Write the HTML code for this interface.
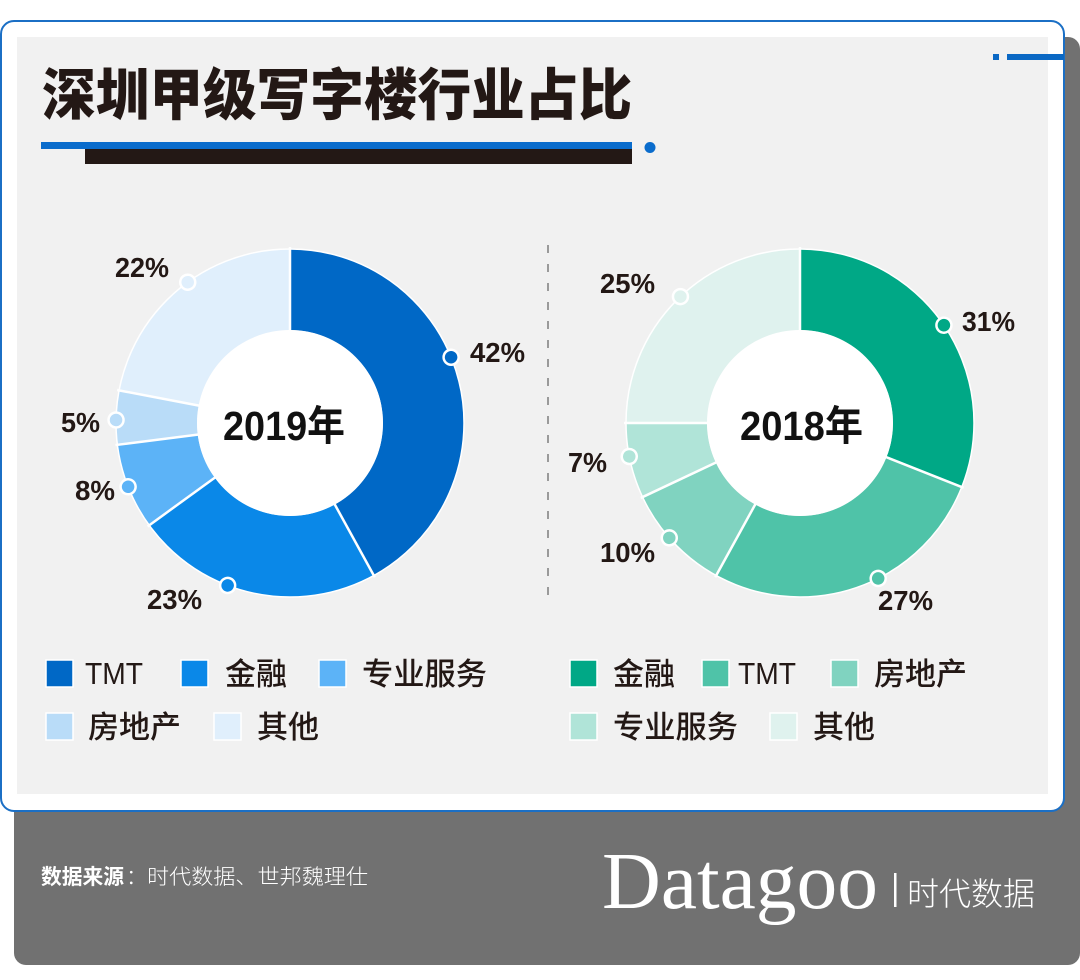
<!DOCTYPE html>
<html>
<head>
<meta charset="utf-8">
<style>
html,body{margin:0;padding:0;background:#ffffff;}
svg{display:block;}
.lbl{font-family:"Liberation Sans","Noto Sans CJK SC",sans-serif;font-weight:700;font-size:28px;fill:#231815;}
.ctr{font-family:"Liberation Sans","Noto Sans CJK SC",sans-serif;font-weight:700;font-size:41px;fill:#111111;}
.lg{font-family:"Liberation Sans","Noto Sans CJK SC",sans-serif;font-weight:500;font-size:31px;fill:#231815;}
</style>
</head>
<body>
<svg width="1080" height="980" viewBox="0 0 1080 980" xmlns="http://www.w3.org/2000/svg">
  <!-- dark shadow block -->
  <rect x="14" y="37" width="1066" height="928" rx="12" fill="#717171"/>
  <!-- card -->
  <rect x="1" y="21" width="1063" height="790" rx="13" fill="#ffffff" stroke="#1b6fc5" stroke-width="2"/>
  <rect x="17" y="37" width="1031" height="757" fill="#f1f1f1"/>
  <!-- top right decoration -->
  <rect x="993" y="54" width="6" height="6" fill="#0a68c4"/>
  <rect x="1007" y="54" width="57" height="6" fill="#0a68c4"/>

  <!-- title -->
  <text x="42" y="115" textLength="590" lengthAdjust="spacingAndGlyphs" style="font-family:'Liberation Sans','Noto Sans CJK SC',sans-serif;font-weight:900;font-size:56px;fill:#231815;">深圳甲级写字楼行业占比</text>
  <rect x="41" y="142" width="591" height="7" fill="#0a6ccc"/>
  <rect x="85" y="149" width="547" height="15" fill="#231815"/>
  <circle cx="650" cy="147.5" r="5.5" fill="#0a6ccc"/>

  <!-- dashed separator -->
  <line x1="548" y1="245" x2="548" y2="605" stroke="#9a9a9a" stroke-width="2" stroke-dasharray="8 11"/>

  <!-- 2019 donut -->
  <g transform="rotate(-90 290 423)" fill="none" stroke-width="81">
    <circle cx="290" cy="423" r="133.5" stroke="#0068c6" stroke-dasharray="352.30 838.81" stroke-dashoffset="0"/>
    <circle cx="290" cy="423" r="133.5" stroke="#0a88e8" stroke-dasharray="192.93 838.81" stroke-dashoffset="-352.30"/>
    <circle cx="290" cy="423" r="133.5" stroke="#5cb3f7" stroke-dasharray="67.10 838.81" stroke-dashoffset="-545.23"/>
    <circle cx="290" cy="423" r="133.5" stroke="#b9dcf8" stroke-dasharray="41.94 838.81" stroke-dashoffset="-612.33"/>
    <circle cx="290" cy="423" r="133.5" stroke="#e0effc" stroke-dasharray="184.54 838.81" stroke-dashoffset="-654.27"/>
  </g>
  <circle cx="290" cy="423" r="174" fill="none" stroke="#ffffff" stroke-width="1.5"/>
  <circle cx="290" cy="423" r="93" fill="#ffffff"/>
  <g transform="translate(290 423)" stroke="#ffffff" stroke-width="2.5">
    <line x1="0" y1="-92" x2="0" y2="-176" transform="rotate(0)"/>
    <line x1="0" y1="-92" x2="0" y2="-176" transform="rotate(151.2)"/>
    <line x1="0" y1="-92" x2="0" y2="-176" transform="rotate(234)"/>
    <line x1="0" y1="-92" x2="0" y2="-176" transform="rotate(262.8)"/>
    <line x1="0" y1="-92" x2="0" y2="-176" transform="rotate(280.8)"/>
  </g>
  <g transform="translate(290 423)" stroke="#ffffff" stroke-width="2.5">
    <circle cx="0" cy="-174" r="7.5" fill="#0068c6" transform="rotate(67.8)"/>
    <circle cx="0" cy="-174" r="7.5" fill="#0a88e8" transform="rotate(201)"/>
    <circle cx="0" cy="-174" r="7.5" fill="#5cb3f7" transform="rotate(248.5)"/>
    <circle cx="0" cy="-174" r="7.5" fill="#b9dcf8" transform="rotate(271)"/>
    <circle cx="0" cy="-174" r="7.5" fill="#e0effc" transform="rotate(324)"/>
  </g>
  <text class="ctr" x="223" y="440" textLength="122" lengthAdjust="spacingAndGlyphs">2019年</text>
  <text class="lbl" x="115" y="277" textLength="54" lengthAdjust="spacingAndGlyphs">22%</text>
  <text class="lbl" x="470" y="362" textLength="55" lengthAdjust="spacingAndGlyphs">42%</text>
  <text class="lbl" x="61" y="432" textLength="39" lengthAdjust="spacingAndGlyphs">5%</text>
  <text class="lbl" x="75" y="500" textLength="40" lengthAdjust="spacingAndGlyphs">8%</text>
  <text class="lbl" x="147" y="609" textLength="55" lengthAdjust="spacingAndGlyphs">23%</text>

  <!-- 2018 donut -->
  <g transform="rotate(-90 800 423)" fill="none" stroke-width="81">
    <circle cx="800" cy="423" r="133.5" stroke="#00a886" stroke-dasharray="260.03 838.81" stroke-dashoffset="0"/>
    <circle cx="800" cy="423" r="133.5" stroke="#4fc3a8" stroke-dasharray="226.48 838.81" stroke-dashoffset="-260.03"/>
    <circle cx="800" cy="423" r="133.5" stroke="#80d3c0" stroke-dasharray="83.88 838.81" stroke-dashoffset="-486.51"/>
    <circle cx="800" cy="423" r="133.5" stroke="#b0e4d8" stroke-dasharray="58.72 838.81" stroke-dashoffset="-570.39"/>
    <circle cx="800" cy="423" r="133.5" stroke="#dff2ee" stroke-dasharray="209.70 838.81" stroke-dashoffset="-629.11"/>
  </g>
  <circle cx="800" cy="423" r="174" fill="none" stroke="#ffffff" stroke-width="1.5"/>
  <circle cx="800" cy="423" r="93" fill="#ffffff"/>
  <g transform="translate(800 423)" stroke="#ffffff" stroke-width="2.5">
    <line x1="0" y1="-92" x2="0" y2="-176" transform="rotate(0)"/>
    <line x1="0" y1="-92" x2="0" y2="-176" transform="rotate(111.6)"/>
    <line x1="0" y1="-92" x2="0" y2="-176" transform="rotate(208.8)"/>
    <line x1="0" y1="-92" x2="0" y2="-176" transform="rotate(244.8)"/>
    <line x1="0" y1="-92" x2="0" y2="-176" transform="rotate(270)"/>
  </g>
  <g transform="translate(800 423)" stroke="#ffffff" stroke-width="2.5">
    <circle cx="0" cy="-174" r="7.5" fill="#00a886" transform="rotate(55.8)"/>
    <circle cx="0" cy="-174" r="7.5" fill="#4fc3a8" transform="rotate(153.3)"/>
    <circle cx="0" cy="-174" r="7.5" fill="#80d3c0" transform="rotate(228.7)"/>
    <circle cx="0" cy="-174" r="7.5" fill="#b0e4d8" transform="rotate(258.9)"/>
    <circle cx="0" cy="-174" r="7.5" fill="#dff2ee" transform="rotate(316.6)"/>
  </g>
  <text class="ctr" x="740" y="440" textLength="123" lengthAdjust="spacingAndGlyphs">2018年</text>
  <text class="lbl" x="962" y="331" textLength="53" lengthAdjust="spacingAndGlyphs">31%</text>
  <text class="lbl" x="600" y="293" textLength="55" lengthAdjust="spacingAndGlyphs">25%</text>
  <text class="lbl" x="568" y="472" textLength="39" lengthAdjust="spacingAndGlyphs">7%</text>
  <text class="lbl" x="600" y="562" textLength="55" lengthAdjust="spacingAndGlyphs">10%</text>
  <text class="lbl" x="878" y="610" textLength="55" lengthAdjust="spacingAndGlyphs">27%</text>

  <!-- legends left -->
  <g stroke="#ffffff" stroke-width="1.5">
    <rect x="46" y="660" width="27" height="27" fill="#0068c6"/>
    <rect x="181" y="660" width="27" height="27" fill="#0a88e8"/>
    <rect x="319" y="660" width="27" height="27" fill="#5cb3f7"/>
    <rect x="46" y="713" width="27" height="27" fill="#b9dcf8"/>
    <rect x="214" y="713" width="27" height="27" fill="#e0effc"/>
    <rect x="570" y="660" width="27" height="27" fill="#00a886"/>
    <rect x="702" y="660" width="27" height="27" fill="#4fc3a8"/>
    <rect x="831" y="660" width="27" height="27" fill="#80d3c0"/>
    <rect x="570" y="713" width="27" height="27" fill="#b0e4d8"/>
    <rect x="770" y="713" width="27" height="27" fill="#dff2ee"/>
  </g>
  <text class="lg" x="85" y="684" textLength="58" lengthAdjust="spacingAndGlyphs">TMT</text>
  <text class="lg" x="225" y="685">金融</text>
  <text class="lg" x="362" y="685" textLength="125" lengthAdjust="spacingAndGlyphs">专业服务</text>
  <text class="lg" x="88" y="738">房地产</text>
  <text class="lg" x="257" y="738">其他</text>

  <text class="lg" x="613" y="685">金融</text>
  <text class="lg" x="738" y="684" textLength="58" lengthAdjust="spacingAndGlyphs">TMT</text>
  <text class="lg" x="874" y="685">房地产</text>
  <text class="lg" x="613" y="738" textLength="125" lengthAdjust="spacingAndGlyphs">专业服务</text>
  <text class="lg" x="813" y="738">其他</text>

  <!-- footer -->
  <text x="41" y="884" style="font-family:'Liberation Sans','Noto Sans CJK SC',sans-serif;font-weight:700;font-size:21px;fill:#ffffff;" textLength="83" lengthAdjust="spacingAndGlyphs">数据来源</text>
  <text x="126" y="884" style="font-family:'Liberation Sans','Noto Sans CJK SC',sans-serif;font-weight:300;font-size:21px;fill:#ffffff;">：</text>
  <text x="147" y="884" style="font-family:'Liberation Sans','Noto Sans CJK SC',sans-serif;font-weight:300;font-size:21px;fill:#ffffff;" textLength="221" lengthAdjust="spacingAndGlyphs">时代数据、世邦魏理仕</text>

  <text x="602" y="908" style="font-family:'Liberation Serif',serif;font-size:80px;fill:#ffffff;" textLength="276" lengthAdjust="spacingAndGlyphs">Datagoo</text>
  <rect x="894" y="873" width="2.5" height="34" fill="#ffffff"/>
  <text x="907" y="905" style="font-family:'Liberation Sans','Noto Sans CJK SC',sans-serif;font-weight:300;font-size:32px;fill:#ffffff;" textLength="128" lengthAdjust="spacingAndGlyphs">时代数据</text>
</svg>
</body>
</html>
